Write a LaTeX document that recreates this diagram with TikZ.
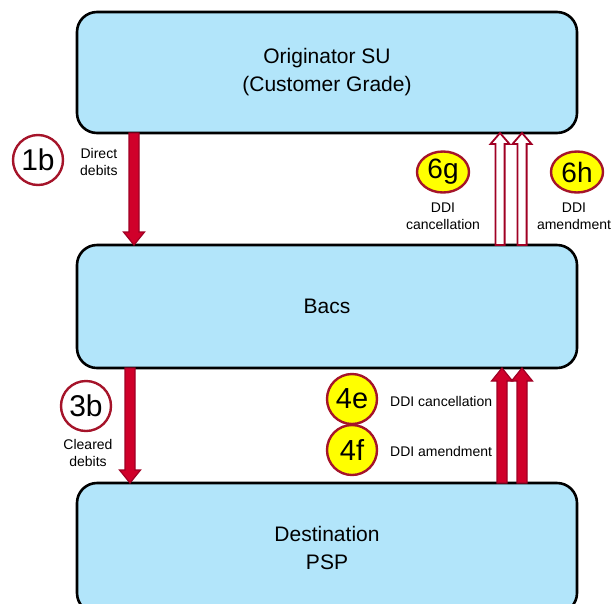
\documentclass[tikz,border=0pt]{standalone}
\usepackage{fontspec}
\setmainfont{Liberation Sans}
\usetikzlibrary{calc,shapes.geometric}

\definecolor{boxfill}{RGB}{178,229,250}
\definecolor{arrowfill}{RGB}{208,0,42}
\definecolor{arrowedge}{RGB}{160,0,36}
\definecolor{ringedge}{RGB}{165,20,42}
\definecolor{stepyellow}{RGB}{255,255,0}

\begin{document}
\begin{tikzpicture}[x=1pt,y=-1pt,
  stage/.style={draw=black, line width=2.6pt, fill=boxfill, rounded corners=20pt,
    minimum width=500pt, outer sep=0pt, inner sep=0pt, align=center,
    font=\fontsize{21}{28}\selectfont},
  ring/.style={circle, draw=ringedge, line width=2.4pt, fill=white, minimum size=50pt,
    inner sep=0pt, font=\fontsize{30}{30}\selectfont},
  yellowring/.style={ring, fill=stepyellow, font=\fontsize{29}{29}\selectfont},
  oval/.style={ellipse, draw=ringedge, line width=2.4pt, fill=stepyellow, minimum width=52pt,
    minimum height=41pt, inner sep=0pt, font=\fontsize{28}{28}\selectfont},
  note/.style={font=\fontsize{14}{17}\selectfont, inner sep=0pt, align=center},
  % vertical block arrow from the start point to the tip at the target
  block arrow/.style n args={3}{to path={
    let \p1=(\tikztostart), \p2=(\tikztotarget), \n1={sign(\y2-\y1)} in
    (\x1-#1,\y1) -- (\x1-#1,\y2-\n1*#3) -- (\x1-#2,\y2-\n1*#3) -- (\x1,\y2)
    -- (\x1+#2,\y2-\n1*#3) -- (\x1+#1,\y2-\n1*#3) -- (\x1+#1,\y1) -- cycle}},
  solidflow/.style={draw=arrowedge, fill=arrowfill, line width=1.2pt, line join=miter,
    block arrow={5pt}{10.5pt}{13pt}},
  openflow/.style={draw=arrowedge, fill=white, line width=1.8pt, line join=miter,
    block arrow={4.6pt}{9.5pt}{11pt}}
]
\useasboundingbox (0,0) rectangle (612,603);
\clip (0,0) rectangle (612,603);

% the three parties
\node[stage, minimum height=121pt] (top) at (327,72.5) {Originator SU\\(Customer Grade)};
\node[stage, minimum height=123pt] (mid) at (327,306.5) {Bacs};
\node[stage, minimum height=130pt] (bot) at (327,548) {Destination\\PSP};

% arrow end points on the box edges
\coordinate (a1s) at ($(top.south west)+(57,0)$);
\coordinate (a1e) at ($(mid.north west)+(57,0)$);
\coordinate (g1s) at ($(mid.north west)+(423,0)$);
\coordinate (g1e) at ($(top.south west)+(423,0)$);
\coordinate (g2s) at ($(mid.north west)+(445,0)$);
\coordinate (g2e) at ($(top.south west)+(445,0)$);
\coordinate (b1s) at ($(mid.south west)+(53,0)$);
\coordinate (b1e) at ($(bot.north west)+(53,0)$);
\coordinate (e1s) at ($(bot.north west)+(425,0)$);
\coordinate (e1e) at ($(mid.south west)+(425,0)$);
\coordinate (e2s) at ($(bot.north west)+(445,0)$);
\coordinate (e2e) at ($(mid.south west)+(445,0)$);

% flows
\path[solidflow] (a1s) to (a1e);
\path[openflow] (g1s) to (g1e);
\path[openflow] (g2s) to (g2e);
\path[solidflow] (b1s) to (b1e);
\path[solidflow] (e1s) to (e1e);
\path[solidflow] (e2s) to (e2e);

% step markers and their labels
\node[ring] (s1b) at (38,160) {1b};
\node[note, anchor=west] (l1b) at (80,162) {Direct\\debits};

\node[oval] (s6g) at (443,172) {6g};
\node[note] (l6g) at (443,216) {DDI\\cancellation};
\node[oval] (s6h) at (577,172) {6h};
\node[note] (l6h) at (574,216) {DDI\\amendment};

\node[ring] (s3b) at (86,406) {3b};
\node[note] (l3b) at (88,453) {Cleared\\debits};

\node[yellowring] (s4e) at (352,399) {4e};
\node[note, anchor=west] (l4e) at (390,401) {DDI cancellation};
\node[yellowring] (s4f) at (352,450) {4f};
\node[note, anchor=west] (l4f) at (390,451) {DDI amendment};
\end{tikzpicture}
\end{document}
